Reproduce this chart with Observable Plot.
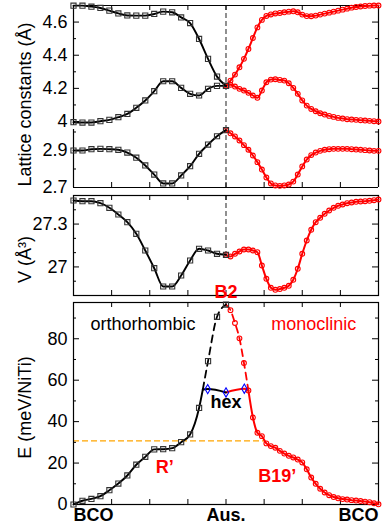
<!DOCTYPE html>
<html><head><meta charset="utf-8">
<script src="https://cdn.jsdelivr.net/npm/d3@7"></script>
<script src="https://cdn.jsdelivr.net/npm/@observablehq/plot@0.6"></script>
<style>
html,body{margin:0;padding:0;background:#fff;}
#chart{position:relative;width:382px;height:527px;overflow:hidden;}
#chart svg{position:absolute;left:0;top:0;}
</style></head><body><div id="chart"></div>
<script>
// ---- path (x) labels ----
const pathTicks = [0, 1, 2];
const pathLabels = ["BCO", "Aus.", "BCO"];
const pathMinorTicks = [0.25, 0.5, 0.75, 1, 1.25, 1.5, 1.75];

// ---- orthorhombic branch (BCO -> Aus.), 18 points ----
const orthoA = [4.699, 4.699, 4.693, 4.685, 4.669, 4.652, 4.640, 4.639, 4.639, 4.649, 4.663, 4.659, 4.628, 4.594, 4.498, 4.378, 4.271, 4.215];
const orthoB = [3.996, 3.994, 3.994, 4.002, 4.010, 4.026, 4.046, 4.083, 4.127, 4.183, 4.243, 4.243, 4.203, 4.167, 4.157, 4.197, 4.215, 4.215];
const orthoC = [2.900, 2.900, 2.907, 2.909, 2.907, 2.904, 2.889, 2.861, 2.819, 2.770, 2.722, 2.722, 2.765, 2.815, 2.882, 2.932, 2.977, 3.010];
const orthoV = [27.465, 27.460, 27.460, 27.446, 27.414, 27.367, 27.313, 27.232, 27.115, 26.991, 26.863, 26.863, 26.940, 27.045, 27.127, 27.115, 27.092, 27.085];
const orthoE = [0, 1.8, 2.7, 4.0, 6.9, 10.1, 14.0, 19.2, 23.0, 26.6, 26.7, 27.2, 30.1, 33.8, 46.6, 69.2, 90.6, 96.5];

// ---- monoclinic branch (Aus. -> BCO), 35 points ----
const monoA = [4.215, 4.247, 4.283, 4.327, 4.378, 4.438, 4.504, 4.568, 4.613, 4.637, 4.646, 4.652, 4.655, 4.659, 4.663, 4.665, 4.659, 4.645, 4.636, 4.635, 4.639, 4.645, 4.651, 4.657, 4.663, 4.669, 4.675, 4.681, 4.687, 4.691, 4.694, 4.697, 4.699, 4.700, 4.700];
const monoB = [4.215, 4.222, 4.211, 4.197, 4.187, 4.173, 4.157, 4.143, 4.187, 4.237, 4.253, 4.255, 4.251, 4.247, 4.231, 4.203, 4.167, 4.127, 4.096, 4.076, 4.062, 4.050, 4.042, 4.034, 4.028, 4.022, 4.018, 4.014, 4.012, 4.010, 4.008, 4.006, 4.004, 4.002, 4.000];
const monoC = [3.010, 2.993, 2.976, 2.954, 2.929, 2.904, 2.873, 2.837, 2.797, 2.754, 2.722, 2.711, 2.709, 2.711, 2.716, 2.732, 2.770, 2.814, 2.851, 2.875, 2.889, 2.898, 2.904, 2.907, 2.909, 2.909, 2.909, 2.909, 2.907, 2.905, 2.904, 2.902, 2.900, 2.898, 2.898];
const monoV = [27.085, 27.073, 27.092, 27.108, 27.122, 27.122, 27.115, 27.103, 27.010, 26.917, 26.854, 26.840, 26.845, 26.854, 26.868, 26.910, 26.987, 27.092, 27.185, 27.260, 27.313, 27.344, 27.372, 27.395, 27.414, 27.428, 27.437, 27.446, 27.451, 27.456, 27.458, 27.460, 27.463, 27.467, 27.472];
const monoE = [96.5, 93.8, 87.6, 80.2, 68.3, 55.0, 42.0, 34.6, 33.0, 29.5, 28.2, 27.4, 25.9, 24.6, 23.5, 22.7, 21.7, 20.3, 17.0, 13.0, 10.0, 7.6, 5.8, 4.5, 3.6, 3.0, 2.6, 2.4, 2.1, 1.9, 1.7, 1.4, 1.1, 0.6, 0.1];

// ---- hexagonal path and junction ----
const hexX = [0.88, 1, 1.12];
const hexE = [55.7, 54.1, 55.9];
const orthoJoinX = 0.848;
const orthoJoinE = 55.5;
const monoJoinIndex = 5;

// ---- reference energy (orange dashed) ----
const refE = 30.7;
const refEndX = 1.255;

// ---- axis ticks ----
const latUpTicks = [4, 4.2, 4.4, 4.6];
const latUpMinor = [4.1, 4.3, 4.5];
const latLoTicks = [2.7, 2.9];
const latLoMinor = [2.8, 3.0];
const vTicks = [27, 27.3];
const vMinor = [26.9, 27.1, 27.2, 27.4];
const eTicks = [0, 20, 40, 60, 80];
const eMinor = [10, 30, 50, 70, 90];

// ---- annotations (data units of the energy panel) ----
const plainNotes = [
  {text: "orthorhombic", x: 0.456, y: 87, color: "#000"},
  {text: "monoclinic", x: 1.576, y: 87, color: "#ff0000"}
];
const boldNotes = [
  {text: "B2", x: 1, y: 102.3, color: "#ff0000"},
  {text: "hex", x: 1, y: 49.3, color: "#000"},
  {text: "R’", x: 0.598, y: 17.8, color: "#ff0000"},
  {text: "B19’", x: 1.336, y: 13.7, color: "#ff0000"}
];

// ---------------------------------------------------------------
const W = 382, ML = 73, MR = 4;
const FW = W - ML - MR;
const FONT = "'Liberation Sans', Arial, Helvetica, sans-serif";
const RED = "#ff0000";

const ortho = orthoA.map((_, i) => ({x: i / (orthoA.length - 1), a: orthoA[i], b: orthoB[i], c: orthoC[i], V: orthoV[i], E: orthoE[i]}));
const mono = monoA.map((_, i) => ({x: 1 + i / (monoA.length - 1), a: monoA[i], b: monoB[i], c: monoC[i], V: monoV[i], E: monoE[i]}));
const hex = hexX.map((x, i) => ({x, E: hexE[i]}));
const orthoJoin = {x: orthoJoinX, E: orthoJoinE};

function yTickRules(major, minor) {
  return [
    Plot.ruleY(major, {insetRight: FW - 6, stroke: "#000"}),
    Plot.ruleY(major, {insetLeft: FW - 6, stroke: "#000"}),
    Plot.ruleY(minor, {insetRight: FW - 3, stroke: "#000"}),
    Plot.ruleY(minor, {insetLeft: FW - 3, stroke: "#000"})
  ];
}
function yTickLabels(values, fmt) {
  return Plot.text(values, {y: d => d, text: fmt, frameAnchor: "left", textAnchor: "end", dx: -6, fontSize: 18, fill: "#000"});
}
function xTickRules(fh, top, bottom) {
  const m = [];
  if (top) m.push(Plot.ruleX(pathMinorTicks, {insetBottom: fh - 5, stroke: "#000"}));
  if (bottom) m.push(Plot.ruleX(pathMinorTicks, {insetTop: fh - 5, stroke: "#000"}));
  return m;
}
function yTitle(label, dy) {
  return Plot.text([label], {text: d => d, frameAnchor: "left", textAnchor: "middle", lineAnchor: "middle", rotate: -90, dx: -48, dy, fontSize: 18, fill: "#000"});
}
function panel(height, mt, mb, yDomain, marks) {
  return Plot.plot({
    width: W, height, marginTop: mt, marginBottom: mb, marginLeft: ML, marginRight: MR,
    x: {domain: [0, 2], axis: null},
    y: {domain: yDomain, axis: null},
    style: {background: "transparent", fontFamily: FONT, fontSize: "18px", overflow: "visible", color: "#000"},
    marks
  });
}
const lineO = (y, extra = {}) => Plot.line(ortho, {x: "x", y, stroke: "#000", strokeWidth: 1.9, curve: "monotone-x", ...extra});
const lineM = (y, extra = {}) => Plot.line(mono, {x: "x", y, stroke: RED, strokeWidth: 2, curve: "monotone-x", ...extra});
const sqO = (data, y) => Plot.dot(data, {x: "x", y, symbol: "square", r: 2.9, stroke: "#333", strokeWidth: 1.1, fill: "none"});
const ciM = (data, y) => Plot.dot(data, {x: "x", y, symbol: "circle", r: 2.4, stroke: RED, strokeWidth: 1.1, fill: "none"});
const dashAus = {stroke: "#555", strokeWidth: 1.3, strokeDasharray: "5,3"};

const chart = document.getElementById("chart");

// Panel A: lattice constants a, b (upper range)
const yA = [3.976, 4.7];
const hA = 190, mtA = 5, mbA = 65;
chart.append(panel(hA, mtA, mbA, yA, [
  Plot.ruleX([1], {...dashAus, insetBottom: -2}),
  Plot.ruleY([yA[1]], {stroke: "#000", strokeWidth: 1.2}),
  Plot.ruleX([0, 2], {stroke: "#000", strokeWidth: 1.2}),
  ...yTickRules(latUpTicks, latUpMinor),
  ...xTickRules(hA - mtA - mbA, true, false),
  yTickLabels(latUpTicks, d => d3.format("~g")(d)),
  lineM("a"), lineM("b"), ciM(mono, "a"), ciM(mono, "b"),
  lineO("a"), lineO("b"), sqO(ortho, "a"), sqO(ortho, "b"),
  yTitle("Lattice constants (Å)", 39)
]));

// Panel B: lattice constant c (lower range)
const yB = [2.7, 3.0135];
const hB = 190, mtB = 129, mbB = 3;
chart.append(panel(hB, mtB, mbB, yB, [
  Plot.ruleX([1], {...dashAus, insetTop: -2}),
  Plot.ruleY([yB[0]], {stroke: "#000", strokeWidth: 1.2}),
  Plot.ruleX([0, 2], {stroke: "#000", strokeWidth: 1.2}),
  ...yTickRules(latLoTicks, latLoMinor),
  ...xTickRules(hB - mtB - mbB, false, true),
  yTickLabels(latLoTicks, d => d3.format(".1f")(d)),
  lineM("c"), ciM(mono, "c"),
  lineO("c"), sqO(ortho, "c")
]));

// Panel C: volume
const yC = [26.8, 27.5];
const hC = 300, mtC = 195, mbC = 5;
chart.append(panel(hC, mtC, mbC, yC, [
  Plot.ruleX([1], {...dashAus, y1: yC[1], y2: orthoV[orthoV.length - 1]}),
  Plot.frame({stroke: "#000", strokeWidth: 1.2}),
  ...yTickRules(vTicks, vMinor),
  ...xTickRules(hC - mtC - mbC, true, true),
  yTickLabels(vTicks, d => d3.format("~g")(d)),
  lineM("V"), ciM(mono, "V"),
  lineO("V"), sqO(ortho, "V"),
  yTitle("V (Å³)", 14)
]));

// Panel D: energy
const yD = [0, 97.5];
const hD = 527, mtD = 302, mbD = 23;
chart.append(panel(hD, mtD, mbD, yD, [
  Plot.ruleY([refE], {x1: 0, x2: refEndX, stroke: "#ffa500", strokeWidth: 1.3, strokeDasharray: "6,3"}),
  Plot.frame({stroke: "#000", strokeWidth: 1.2}),
  ...yTickRules(eTicks, eMinor),
  ...xTickRules(hD - mtD - mbD, true, true),
  yTickLabels(eTicks, d => String(d)),
  // monoclinic: unstable dashed part and solid part
  Plot.line(mono.slice(0, monoJoinIndex + 1), {x: "x", y: "E", stroke: RED, strokeWidth: 1.8, strokeDasharray: "7,5", curve: "monotone-x"}),
  Plot.line(mono.slice(monoJoinIndex), {x: "x", y: "E", stroke: RED, strokeWidth: 2, curve: "monotone-x"}),
  Plot.line([hex[1], hex[2], mono[monoJoinIndex]], {x: "x", y: "E", stroke: RED, strokeWidth: 2, curve: "monotone-x"}),
  ciM(mono.slice(1), "E"),
  // orthorhombic: solid then dashed
  Plot.line([...ortho.slice(0, 15), orthoJoin], {x: "x", y: "E", stroke: "#000", strokeWidth: 1.9, curve: "monotone-x"}),
  Plot.line([orthoJoin, ...ortho.slice(15)], {x: "x", y: "E", stroke: "#000", strokeWidth: 1.8, strokeDasharray: "7,5", curve: "monotone-x"}),
  Plot.line([orthoJoin, hex[0], hex[1]], {x: "x", y: "E", stroke: "#000", strokeWidth: 2, curve: "monotone-x"}),
  sqO(ortho, "E"),
  Plot.dot(hex, {x: "x", y: "E", symbol: "diamond", r: 2.8, stroke: "#0000ff", strokeWidth: 1.1, fill: "none"}),
  Plot.text(plainNotes, {x: "x", y: "y", text: "text", fill: d => d.color, fontSize: 18}),
  Plot.text(boldNotes, {x: "x", y: "y", text: "text", fill: d => d.color, fontWeight: "bold", fontSize: 18}),
  yTitle("E (meV/NiTi)", 4),
  Plot.text([0], {x: d => pathTicks[d], text: d => pathLabels[d], frameAnchor: "bottom", textAnchor: "start", dy: 16, fontSize: 18, fontWeight: "bold", fill: "#000"}),
  Plot.text([1], {x: d => pathTicks[d], text: d => pathLabels[d], frameAnchor: "bottom", textAnchor: "middle", dy: 16, fontSize: 18, fontWeight: "bold", fill: "#000"}),
  Plot.text([2], {x: d => pathTicks[d], text: d => pathLabels[d], frameAnchor: "bottom", textAnchor: "end", dy: 16, fontSize: 18, fontWeight: "bold", fill: "#000"})
]));
</script></body></html>
